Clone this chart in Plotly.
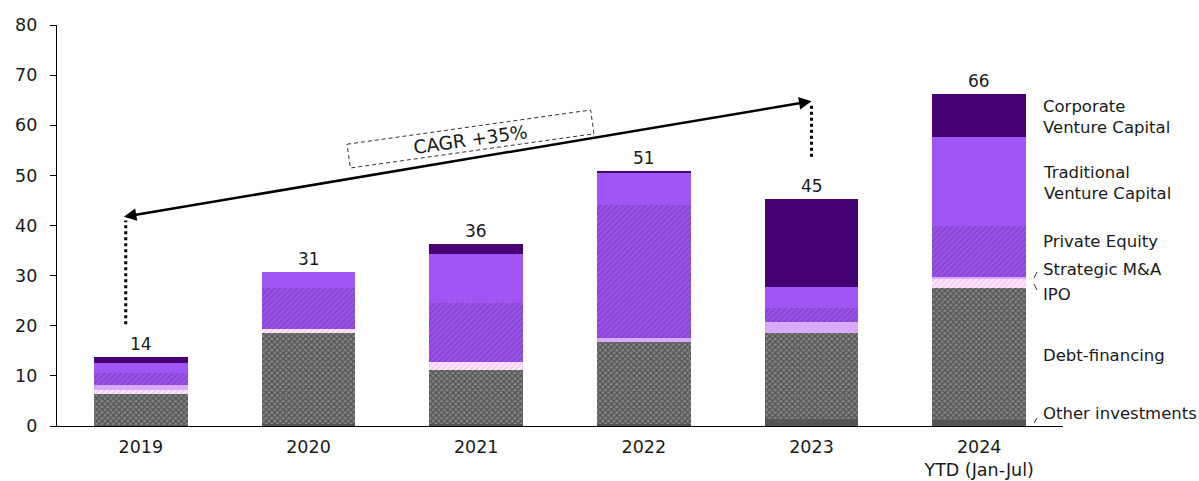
import math
import plotly.graph_objects as go

# Investment volume by funding type, USD bn
years = ["2019", "2020", "2021", "2022", "2023", "2024"]
tick_labels = ["2019", "2020", "2021", "2022", "2023", "2024<br>YTD (Jan-Jul)"]

other_investments = [0.3, 0.4, 0.4, 0.4, 1.3, 1.2]
debt_financing = [6.1, 18.1, 10.8, 16.3, 17.2, 26.3]
ipo = [0.8, 0.9, 1.65, 0.0, 0.0, 1.8]
strategic_ma = [1.0, 0.0, 0.0, 0.8, 2.2, 0.5]
private_equity = [2.3, 8.1, 11.65, 26.6, 2.9, 10.1]
traditional_vc = [2.1, 3.3, 9.8, 6.5, 4.1, 17.7]
corporate_vc = [1.2, 0.0, 2.0, 0.2, 17.6, 8.7]

cagr_text = "CAGR +35%"

# figure geometry
W, H = 1199, 481
ML, MR, MT, MB = 57, 136, 25, 55
PW, PH = W - ML - MR, H - MT - MB
FONT = "DejaVu Sans, Inter, Arial, sans-serif"
INK = "#1a1a1a"

xs = list(range(len(years)))
series = [
    ("Other investments", other_investments, dict(color="#555555")),
    ("Debt-financing", debt_financing,
     dict(color="#555555",
          pattern=dict(shape="x", fgcolor="#262626", bgcolor="#858585", size=4, solidity=0.6))),
    ("IPO", ipo,
     dict(color="#f6c8f6",
          pattern=dict(shape="/", fgcolor="#eaa2ee", bgcolor="#ffeefd", size=4, solidity=0.5))),
    ("Strategic M&A", strategic_ma, dict(color="#d9a9fb")),
    ("Private Equity", private_equity,
     dict(color="#8c45d8",
          pattern=dict(shape="/", fgcolor="#7a33c2", bgcolor="#9a55e6", size=4, solidity=0.5))),
    ("Traditional Venture Capital", traditional_vc, dict(color="#a056f4")),
    ("Corporate Venture Capital", corporate_vc, dict(color="#460073")),
]

fig = go.Figure()
for name, vals, marker in series:
    fig.add_trace(go.Bar(
        x=xs, y=vals, name=name, width=0.56,
        marker=dict(line=dict(width=0), **marker),
        hoverinfo="name+y",
    ))

totals = [sum(s[1][i] for s in series) for i in range(len(years))]
annotations = []
for i, t in enumerate(totals):
    annotations.append(dict(
        x=i, y=t, xref="x", yref="y", text=f"{round(t)}", showarrow=False,
        yanchor="bottom", yshift=1, font=dict(size=17, color=INK, family=FONT),
    ))


def to_paper(px, py):
    return (px - ML) / PW, (MT + PH - py) / PH


# series labels on the right side
label_x = (1041 - ML) / PW
legend_labels = [
    ("Corporate<br>Venture Capital", 117),
    ("Traditional<br>Venture Capital", 183),
    ("Private Equity", 241),
    ("Strategic M&A", 269),
    ("IPO", 294),
    ("Debt-financing", 355),
    ("Other investments", 413),
]
for text, py in legend_labels:
    _, yp = to_paper(0, py)
    annotations.append(dict(
        x=label_x, y=yp, xref="paper", yref="paper", text=text, showarrow=False,
        xanchor="left", yanchor="middle", align="left",
        font=dict(size=16.5, color=INK, family=FONT),
    ))

shapes = []
# leader ticks beside the small labels
for (x0, y0, x1, y1) in [(1034, 278, 1037, 272), (1034, 284, 1037, 290), (1034, 423, 1037, 418)]:
    a = to_paper(x0, y0)
    b = to_paper(x1, y1)
    shapes.append(dict(type="line", xref="paper", yref="paper",
                       x0=a[0], y0=a[1], x1=b[0], y1=b[1],
                       line=dict(color="#333", width=1)))

# dotted guides from the 2019 and 2023 bars up to the growth arrow
shapes.append(dict(type="line", xref="x", yref="y", x0=-0.09, x1=-0.09, y0=20.3, y1=41.0,
                   line=dict(color="#000", width=3, dash="dot")))
shapes.append(dict(type="line", xref="x", yref="y", x0=4.0, x1=4.0, y0=53.7, y1=64.3,
                   line=dict(color="#000", width=3, dash="dot")))

# growth arrow
annotations.append(dict(
    x=4.0, y=64.8, ax=-0.11, ay=41.7, xref="x", yref="y", axref="x", ayref="y",
    text="", showarrow=True, arrowhead=2, startarrowhead=2, arrowside="end+start",
    arrowsize=1, startarrowsize=1, arrowwidth=2.5, arrowcolor="#000",
    standoff=0, startstandoff=0,
))

# dashed rotated box with the CAGR label
cx, cy, bw, bh, ang = 470.5, 139.0, 246, 24, -8.0
ca, sa = math.cos(math.radians(ang)), math.sin(math.radians(ang))
corners = []
for dx, dy in [(-bw / 2, -bh / 2), (bw / 2, -bh / 2), (bw / 2, bh / 2), (-bw / 2, bh / 2)]:
    px = cx + dx * ca - dy * sa
    py = cy + dx * sa + dy * ca
    corners.append(to_paper(px, py))
path = "M " + " L ".join(f"{x:.5f},{y:.5f}" for x, y in corners) + " Z"
shapes.append(dict(type="path", xref="paper", yref="paper", path=path,
                   fillcolor="white", line=dict(color="#333", width=1, dash="4px,3px")))
tx, ty = to_paper(cx, cy)
annotations.append(dict(
    x=tx, y=ty, xref="paper", yref="paper", text=cagr_text, showarrow=False,
    textangle=ang, yshift=20, font=dict(size=18.5, color=INK, family=FONT),
))

fig.update_layout(
    barmode="stack",
    width=W, height=H,
    margin=dict(l=ML, r=MR, t=MT, b=MB, pad=0, autoexpand=False),
    plot_bgcolor="white", paper_bgcolor="white",
    showlegend=False,
    font=dict(family=FONT, size=16, color=INK),
    annotations=annotations,
    shapes=shapes,
    xaxis=dict(
        range=[-0.5, 5.5], tickvals=xs, ticktext=tick_labels, automargin=False,
        showline=True, linecolor="#000", linewidth=1.2, ticks="",
        showgrid=False, zeroline=False, tickfont=dict(size=17.5, family=FONT, color=INK),
        ticklabelstandoff=5,
    ),
    yaxis=dict(
        range=[0, 80], dtick=10, showline=True, linecolor="#000", linewidth=1.2,
        ticks="outside", ticklen=6, tickcolor="#000", tickwidth=1, automargin=False,
        showgrid=False, zeroline=False, tickfont=dict(size=17.5, family=FONT, color=INK),
        ticklabelstandoff=9,
    ),
)

fig.write_html("out.html")
